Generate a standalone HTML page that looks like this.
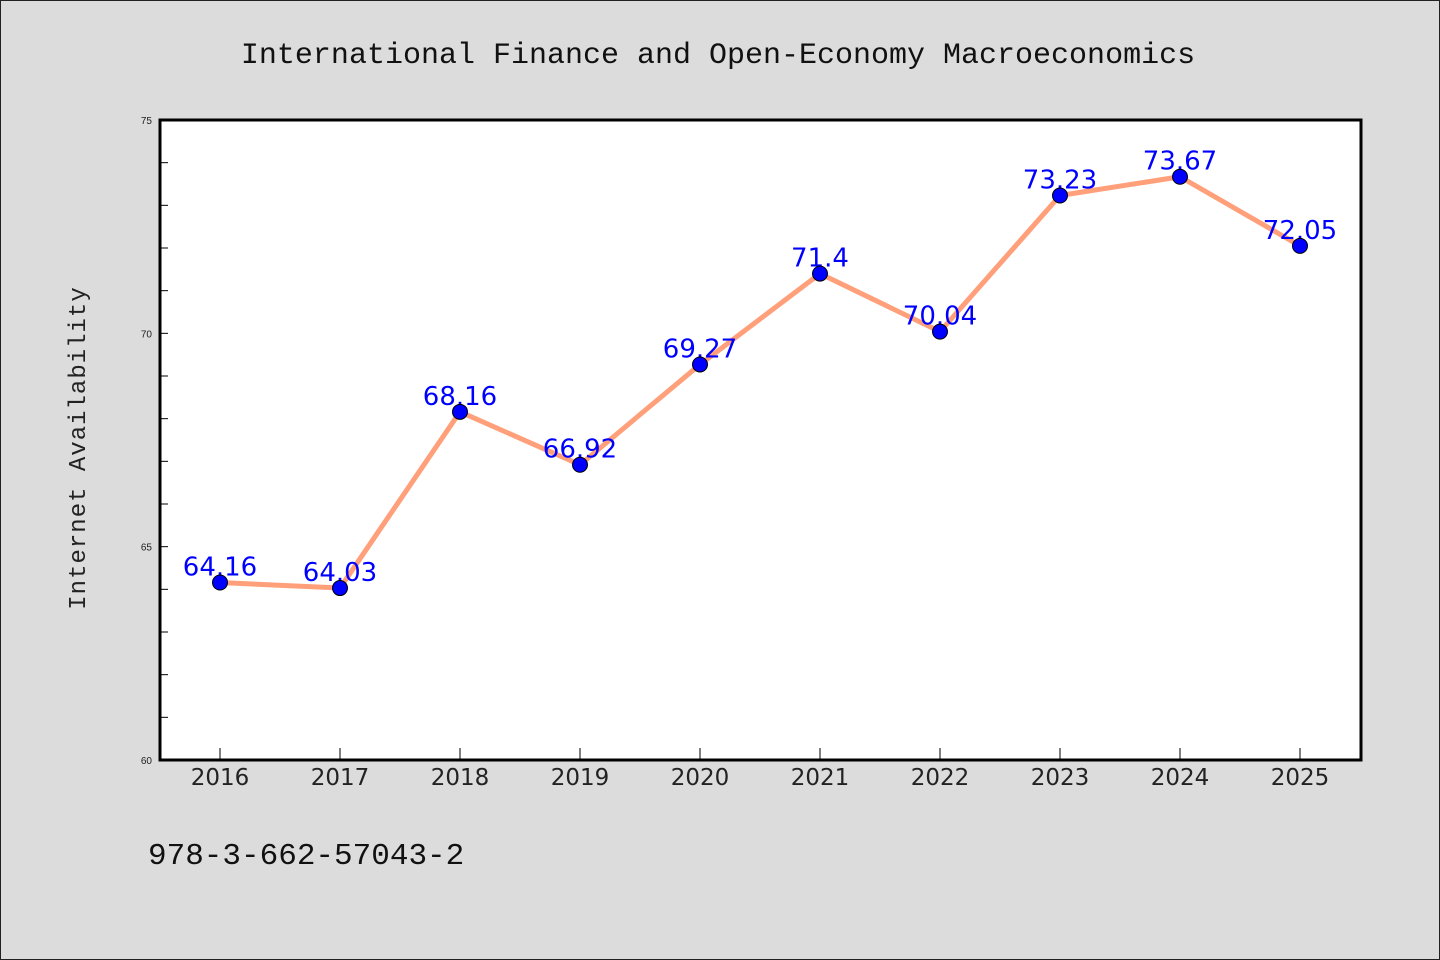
<!DOCTYPE html>
<html><head><meta charset="utf-8"><style>
body{margin:0;background:#dcdcdc}
svg{display:block}
</style></head><body>
<svg width="1440" height="960" xmlns="http://www.w3.org/2000/svg">
<rect x="0.5" y="0.5" width="1439" height="959" fill="#dcdcdc" stroke="#222"/>
<text x="718" y="63" text-anchor="middle" font-family="'Liberation Mono',monospace" font-size="30" fill="#111">International Finance and Open-Economy Macroeconomics</text>
<rect x="160" y="120" width="1201" height="640" fill="#fff"/>
<g id="axes"></g>
<polyline id="line" fill="none" stroke="#ffa07a" stroke-width="5" stroke-linejoin="round"/>
<g id="labels"></g>
<g id="points"></g>
<rect x="160" y="120" width="1201" height="640" fill="none" stroke="#000" stroke-width="3"/>
<text transform="translate(85,448) rotate(-90)" text-anchor="middle" font-family="'Liberation Mono',monospace" font-size="24" fill="#222" letter-spacing="1">Internet Availability</text>
<text x="148" y="864" font-family="'Liberation Mono',monospace" font-size="31" fill="#111">978-3-662-57043-2</text>
</svg>
<script>
const years=[2016,2017,2018,2019,2020,2021,2022,2023,2024,2025];
const values=[64.16,64.03,68.16,66.92,69.27,71.4,70.04,73.23,73.67,72.05];
const valueLabels=["64.16","64.03","68.16","66.92","69.27","71.4","70.04","73.23","73.67","72.05"];
const yTicks=[60,65,70,75];
const NS="http://www.w3.org/2000/svg";
const yMin=60,yMax=75,plotTop=120,plotBot=760;
const sx=i=>220+i*120;
const sy=v=>plotBot-(v-yMin)/(yMax-yMin)*(plotBot-plotTop);
function mk(t,a,p){const e=document.createElementNS(NS,t);for(const k in a)e.setAttribute(k,a[k]);p.appendChild(e);return e;}
const axes=document.getElementById('axes');
for(let v=yMin;v<=yMax;v++){
  const tl=mk('line',{x1:160,x2:168,y1:sy(v),y2:sy(v),stroke:'#000','stroke-width':1},axes);
  
  
}
yTicks.forEach(v=>{
  const t=mk('text',{x:152,y:sy(v)+4,'text-anchor':'end','font-family':'Liberation Sans,sans-serif','font-size':10,fill:'#222'},axes);
  t.textContent=v;
  
  
});
years.forEach((y,i)=>{
  const tl=mk('line',{x1:sx(i),x2:sx(i),y1:760,y2:748,stroke:'#000','stroke-width':1},axes);
  
  
  const t=mk('text',{x:sx(i),y:785,'text-anchor':'middle','font-family':'DejaVu Sans,sans-serif','font-size':23,fill:'#222'},axes);
  t.textContent=y;
  
  
});
document.getElementById('line').setAttribute('points',values.map((v,i)=>sx(i)+','+sy(v)).join(' '));
const lab=document.getElementById('labels'),pts=document.getElementById('points');
values.forEach((v,i)=>{
  const t=mk('text',{x:sx(i),y:sy(v)-7,'text-anchor':'middle','font-family':'DejaVu Sans,sans-serif','font-size':26,fill:'#0000ff'},lab);
  t.textContent=valueLabels[i];
  
  
  const c=mk('circle',{cx:sx(i),cy:sy(v),r:7.5,fill:'#0000ff',stroke:'#000','stroke-width':1},pts);
  
  
});
</script>
</body></html>
